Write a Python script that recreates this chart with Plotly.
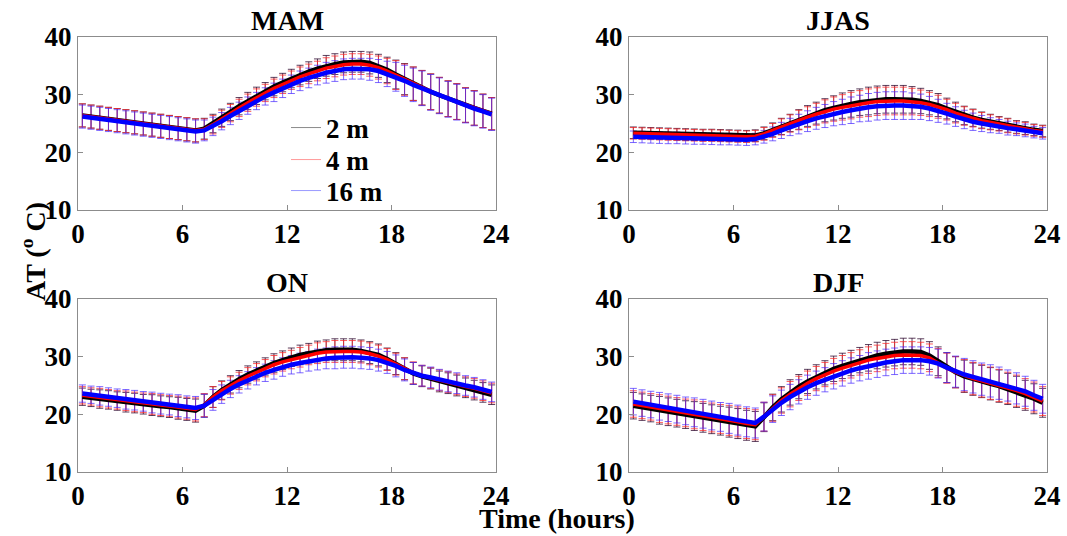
import plotly.graph_objects as go

# Half-hourly time stamps (hours)
hours = [0.25, 0.75, 1.25, 1.75, 2.25, 2.75, 3.25, 3.75, 4.25, 4.75, 5.25, 5.75,
         6.25, 6.75, 7.25, 7.75, 8.25, 8.75, 9.25, 9.75, 10.25, 10.75, 11.25, 11.75,
         12.25, 12.75, 13.25, 13.75, 14.25, 14.75, 15.25, 15.75, 16.25, 16.75, 17.25, 17.75,
         18.25, 18.75, 19.25, 19.75, 20.25, 20.75, 21.25, 21.75, 22.25, 22.75, 23.25, 23.75]

seasons = ["MAM", "JJAS", "ON", "DJF"]
heights = ["2 m", "4 m", "16 m"]
x_ticks = [0, 6, 12, 18, 24]
y_ticks = [10, 20, 30, 40]

# ---- MAM ----
mam_2m = [26.4, 26.2, 26.0, 25.8, 25.6, 25.4, 25.2, 25.0, 24.8, 24.6, 24.4, 24.2, 24.0, 23.8,
          24.1, 25.0, 26.0, 27.0, 28.0, 28.9, 29.8, 30.6, 31.4, 32.1, 32.8, 33.4, 34.0, 34.5,
          35.0, 35.3, 35.6, 35.7, 35.7, 35.5, 35.0, 34.3, 33.5, 32.7, 31.9, 31.2, 30.5, 29.9,
          29.3, 28.8, 28.2, 27.7, 27.2, 26.7]
mam_4m = [26.4, 26.2, 26.0, 25.8, 25.6, 25.4, 25.2, 25.0, 24.8, 24.6, 24.4, 24.2, 24.0, 23.8,
          24.0, 24.8, 25.8, 26.8, 27.7, 28.6, 29.5, 30.3, 31.1, 31.8, 32.5, 33.1, 33.6, 34.1,
          34.6, 34.9, 35.2, 35.3, 35.3, 35.1, 34.7, 34.1, 33.4, 32.6, 31.9, 31.2, 30.5, 29.9,
          29.3, 28.8, 28.2, 27.7, 27.2, 26.7]
mam_16m = [26.2, 26.0, 25.8, 25.6, 25.4, 25.2, 25.0, 24.8, 24.6, 24.4, 24.2, 24.0, 23.8, 23.6,
           23.8, 24.5, 25.4, 26.3, 27.2, 28.1, 28.9, 29.7, 30.4, 31.1, 31.8, 32.4, 32.9, 33.4,
           33.8, 34.1, 34.4, 34.5, 34.5, 34.4, 34.1, 33.6, 33.1, 32.4, 31.7, 31.1, 30.4, 29.8,
           29.2, 28.7, 28.1, 27.6, 27.1, 26.6]
mam_sd = [2.0, 2.0, 2.0, 2.0, 2.0, 2.0, 2.0, 2.0, 2.0, 2.0, 2.0, 2.0, 2.0, 2.0,
          1.8, 1.6, 1.5, 1.5, 1.5, 1.5, 1.5, 1.5, 1.6, 1.6, 1.6, 1.7, 1.7, 1.7,
          1.8, 1.8, 1.8, 1.8, 1.8, 1.9, 2.0, 2.2, 2.5, 2.7, 2.9, 3.0, 3.1, 3.1,
          3.1, 3.1, 3.0, 3.0, 2.9, 2.8]

# ---- JJAS ----
jjas_2m = [23.4, 23.35, 23.3, 23.25, 23.2, 23.15, 23.1, 23.05, 23.0, 23.0, 22.95, 22.9, 22.85, 22.8,
           22.9, 23.3, 23.9, 24.5, 25.1, 25.7, 26.3, 26.8, 27.3, 27.7, 28.1, 28.4, 28.7, 28.9,
           29.1, 29.2, 29.2, 29.2, 29.1, 28.9, 28.6, 28.2, 27.6, 27.0, 26.4, 26.0, 25.6, 25.3,
           25.0, 24.7, 24.4, 24.2, 23.9, 23.7]
jjas_4m = [23.3, 23.25, 23.2, 23.15, 23.1, 23.05, 23.0, 22.95, 22.9, 22.9, 22.85, 22.8, 22.75, 22.7,
           22.8, 23.2, 23.8, 24.4, 25.0, 25.6, 26.1, 26.6, 27.1, 27.5, 27.8, 28.1, 28.4, 28.6,
           28.8, 28.9, 28.9, 28.9, 28.8, 28.6, 28.3, 27.9, 27.4, 26.8, 26.3, 25.9, 25.5, 25.2,
           24.9, 24.6, 24.3, 24.1, 23.8, 23.6]
jjas_16m = [22.7, 22.65, 22.6, 22.55, 22.5, 22.5, 22.45, 22.4, 22.4, 22.35, 22.3, 22.3, 22.25, 22.2,
            22.3, 22.7, 23.2, 23.8, 24.4, 24.9, 25.4, 25.9, 26.3, 26.7, 27.0, 27.3, 27.6, 27.8,
            28.0, 28.1, 28.1, 28.1, 28.0, 27.9, 27.6, 27.2, 26.7, 26.2, 25.7, 25.3, 25.0, 24.7,
            24.5, 24.2, 24.0, 23.8, 23.5, 23.3]
jjas_sd = [1.0, 1.0, 1.0, 1.0, 1.0, 1.0, 1.0, 1.0, 1.0, 1.0, 1.0, 1.0, 1.0, 1.0,
           1.0, 1.1, 1.2, 1.4, 1.5, 1.7, 1.8, 1.9, 2.0, 2.1, 2.2, 2.3, 2.3, 2.4,
           2.4, 2.4, 2.4, 2.4, 2.3, 2.2, 2.1, 2.0, 1.8, 1.7, 1.6, 1.5, 1.4, 1.3,
           1.2, 1.2, 1.1, 1.1, 1.0, 1.0]

# ---- ON ----
on_2m = [23.05, 22.85, 22.65, 22.5, 22.3, 22.1, 21.95, 21.75, 21.6, 21.4, 21.25, 21.05, 20.85, 20.65,
         21.5, 23.0, 24.2, 25.2, 26.1, 26.9, 27.6, 28.3, 28.9, 29.4, 29.9, 30.3, 30.6, 30.9,
         31.1, 31.2, 31.2, 31.2, 31.0, 30.7, 30.3, 29.6, 28.8, 27.9, 27.1, 26.6, 26.2, 25.7,
         25.4, 25.0, 24.6, 24.2, 23.8, 23.4]
on_4m = [23.3, 23.1, 22.9, 22.7, 22.5, 22.35, 22.15, 22.0, 21.8, 21.6, 21.45, 21.25, 21.05, 20.85,
         21.6, 23.0, 24.1, 25.0, 25.8, 26.6, 27.3, 28.0, 28.6, 29.1, 29.5, 29.9, 30.3, 30.6,
         30.8, 30.9, 30.9, 30.9, 30.8, 30.5, 30.1, 29.5, 28.7, 27.9, 27.2, 26.7, 26.3, 25.9,
         25.6, 25.2, 24.8, 24.5, 24.1, 23.7]
on_16m = [23.6, 23.4, 23.2, 23.0, 22.8, 22.6, 22.45, 22.25, 22.05, 21.85, 21.7, 21.5, 21.3, 21.1,
          21.5, 22.5, 23.5, 24.4, 25.2, 25.9, 26.6, 27.2, 27.7, 28.2, 28.6, 28.9, 29.2, 29.5,
          29.7, 29.8, 29.9, 29.9, 29.8, 29.7, 29.4, 29.0, 28.4, 27.7, 27.1, 26.7, 26.4, 26.0,
          25.7, 25.4, 25.0, 24.7, 24.3, 23.9]
on_sd = [1.5, 1.5, 1.6, 1.6, 1.6, 1.7, 1.7, 1.7, 1.8, 1.8, 1.8, 1.9, 1.9, 2.0,
         2.0, 1.8, 1.6, 1.5, 1.5, 1.5, 1.5, 1.5, 1.6, 1.6, 1.6, 1.7, 1.7, 1.8,
         1.8, 1.9, 1.9, 1.9, 1.9, 1.9, 1.9, 1.9, 1.9, 1.9, 1.9, 1.8, 1.8, 1.8,
         1.8, 1.8, 1.7, 1.7, 1.7, 1.7]

# ---- DJF ----
djf_2m = [21.5, 21.25, 21.0, 20.7, 20.45, 20.2, 19.95, 19.7, 19.4, 19.15, 18.9, 18.65, 18.4, 18.1,
          17.9, 19.5, 21.2, 22.6, 23.8, 24.8, 25.7, 26.5, 27.2, 27.9, 28.4, 28.9, 29.4, 29.8,
          30.2, 30.5, 30.7, 30.9, 30.9, 30.8, 30.2, 29.2, 28.1, 27.3, 26.6, 26.1, 25.7, 25.3,
          24.9, 24.4, 23.9, 23.3, 22.7, 22.0]
djf_4m = [21.8, 21.55, 21.3, 21.0, 20.75, 20.5, 20.25, 20.0, 19.7, 19.45, 19.2, 18.95, 18.7, 18.4,
          18.2, 19.6, 21.1, 22.4, 23.5, 24.5, 25.4, 26.2, 26.9, 27.5, 28.0, 28.5, 29.0, 29.4,
          29.7, 30.0, 30.2, 30.3, 30.3, 30.2, 29.8, 28.9, 28.0, 27.3, 26.7, 26.2, 25.8, 25.4,
          25.0, 24.6, 24.1, 23.6, 23.0, 22.3]
djf_16m = [22.2, 21.95, 21.7, 21.4, 21.15, 20.9, 20.6, 20.35, 20.1, 19.8, 19.55, 19.3, 19.0, 18.7,
           18.5, 19.6, 20.9, 22.0, 23.0, 23.9, 24.7, 25.4, 26.0, 26.6, 27.1, 27.6, 28.0, 28.4,
           28.7, 29.0, 29.2, 29.4, 29.4, 29.4, 29.2, 28.8, 28.1, 27.4, 26.9, 26.5, 26.1, 25.8,
           25.4, 25.0, 24.5, 24.0, 23.3, 22.7]
djf_sd = [2.3, 2.3, 2.3, 2.4, 2.4, 2.4, 2.4, 2.5, 2.5, 2.5, 2.5, 2.6, 2.6, 2.6,
          2.6, 2.5, 2.3, 2.2, 2.2, 2.1, 2.1, 2.1, 2.1, 2.2, 2.2, 2.2, 2.2, 2.3,
          2.3, 2.3, 2.3, 2.3, 2.3, 2.3, 2.4, 2.5, 2.6, 2.7, 2.8, 2.8, 2.8, 2.8,
          2.8, 2.7, 2.7, 2.6, 2.6, 2.5]

panels = [
    (mam_2m, mam_4m, mam_16m, mam_sd),
    (jjas_2m, jjas_4m, jjas_16m, jjas_sd),
    (on_2m, on_4m, on_16m, on_sd),
    (djf_2m, djf_4m, djf_16m, djf_sd),
]

line_colors = ["#000000", "#ff0000", "#0000ff"]
bar_colors = ["rgba(40,0,40,0.75)", "rgba(255,40,40,0.75)", "rgba(70,40,255,0.7)"]
legend_colors = ["#8a8a8a", "#ff9a9a", "#9a9aff"]
line_widths = [4.5, 3.5, 4.5]
legend_ids = ["legend", "legend2", "legend3"]
legend_rows = [128, 160, 191]  # vertical centre of each legend row, px from top

FONT = "Liberation Serif"
W, H = 1067, 536

# Axes boxes in pixels: (left, right, top, bottom)
boxes = [(78, 496, 37, 210), (629, 1047, 37, 210),
         (78, 496, 299, 472), (629, 1047, 299, 472)]

fig = go.Figure()

for k, (s2, s4, s16, sd) in enumerate(panels):
    ax = "" if k == 0 else str(k + 1)
    series = [s2, s4, s16]
    # error bars (invisible markers carry them)
    for j, vals in enumerate(series):
        fig.add_trace(go.Scatter(
            x=hours, y=vals, mode="markers",
            marker=dict(size=1, color="rgba(0,0,0,0)"),
            error_y=dict(type="data", array=sd, visible=True,
                         color=bar_colors[j], thickness=1, width=3.5),
            showlegend=False, hoverinfo="skip",
            xaxis="x" + ax, yaxis="y" + ax))
    # thin lines used as legend samples (hidden under the thick curves)
    for j, vals in enumerate(series):
        fig.add_trace(go.Scatter(
            x=hours, y=vals, mode="lines",
            line=dict(color=legend_colors[j], width=1),
            name=heights[j], showlegend=(k == 0), legend=legend_ids[j],
            hoverinfo="skip", xaxis="x" + ax, yaxis="y" + ax))
    # thick mean curves on top
    for j, vals in enumerate(series):
        fig.add_trace(go.Scatter(
            x=hours, y=vals, mode="lines",
            line=dict(color=line_colors[j], width=line_widths[j]),
            name=heights[j], showlegend=False,
            xaxis="x" + ax, yaxis="y" + ax))

layout = dict(
    template="none",
    width=W, height=H,
    margin=dict(l=0, r=0, t=0, b=0, pad=0),
    paper_bgcolor="white", plot_bgcolor="white",
    font=dict(family=FONT, size=25, color="black"),
    showlegend=True,
    annotations=[],
)

for lid, row in zip(legend_ids, legend_rows):
    layout[lid] = dict(
        x=286 / W, y=1 - row / H, xanchor="left", yanchor="middle",
        bgcolor="rgba(0,0,0,0)", borderwidth=0,
        font=dict(family=FONT, size=27, color="black", weight="bold"),
        itemwidth=30)

axis_common = dict(
    showline=True, linecolor="#8c8c8c", linewidth=1, mirror=True,
    ticks="inside", ticklen=5, tickcolor="#8c8c8c",
    showgrid=False, zeroline=False, automargin=False,
    tickfont=dict(family=FONT, size=27, color="black", weight="bold"),
)

for k, (l, r, t, b) in enumerate(boxes):
    ax = "" if k == 0 else str(k + 1)
    layout["xaxis" + ax] = dict(
        axis_common, domain=[l / W, r / W], range=[0, 24],
        tickvals=x_ticks, ticktext=[str(v) for v in x_ticks],
        anchor="y" + ax)
    layout["yaxis" + ax] = dict(
        axis_common, domain=[1 - b / H, 1 - t / H], range=[10, 40],
        tickvals=y_ticks, ticktext=[str(v) for v in y_ticks],
        anchor="x" + ax)
    layout["annotations"].append(dict(
        text="<b>%s</b>" % seasons[k], x=(l + r) / 2 / W, y=1 - (t - 17) / H,
        xref="paper", yref="paper", showarrow=False,
        xanchor="center", yanchor="middle",
        font=dict(family=FONT, size=28, color="black")))

layout["annotations"].append(dict(
    text="<b>Time (hours)</b>", x=557 / W, y=1 - 518 / H,
    xref="paper", yref="paper", showarrow=False,
    xanchor="center", yanchor="middle",
    font=dict(family=FONT, size=28, color="black")))
layout["annotations"].append(dict(
    text="<b>AT (<sup>o</sup> C)</b>", x=33 / W, y=1 - 252 / H,
    xref="paper", yref="paper", showarrow=False, textangle=-90,
    xanchor="center", yanchor="middle",
    font=dict(family=FONT, size=28, color="black")))

fig.update_layout(**layout)
fig.write_html("out.html")
